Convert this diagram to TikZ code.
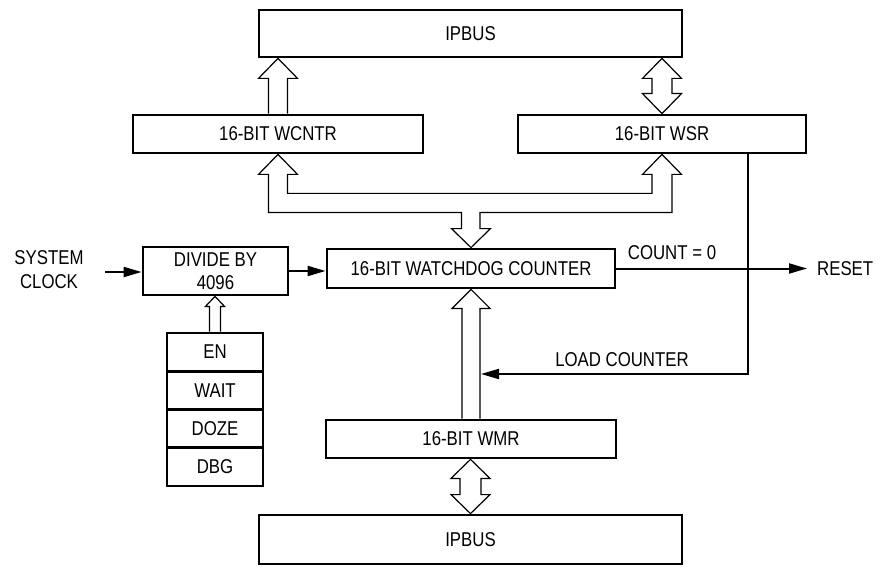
\documentclass[tikz,border=0pt]{standalone}
\usepackage{fontspec}
\setmainfont[FakeStretch=0.84]{Liberation Sans}
\usetikzlibrary{arrows.meta,calc}
\newcommand{\busup}[5]{\draw[bus] let \p1=(#1.north), \p2=(#2.south) in (\x1-#3,\y1) -- (\x1-#3,\y2-#5) -- (\x1-#4,\y2-#5) -- (\x1,\y2) -- (\x1+#4,\y2-#5) -- (\x1+#3,\y2-#5) -- (\x1+#3,\y1);}
\newcommand{\busboth}[5]{\draw[bus] let \p1=(#1.north), \p2=(#2.south) in (\x1,\y1) -- (\x1-#4,\y1+#5) -- (\x1-#3,\y1+#5) -- (\x1-#3,\y2-#5) -- (\x1-#4,\y2-#5) -- (\x1,\y2) -- (\x1+#4,\y2-#5) -- (\x1+#3,\y2-#5) -- (\x1+#3,\y1+#5) -- (\x1+#4,\y1+#5) -- cycle;}
\begin{document}
\begin{tikzpicture}[x=1pt,y=-1pt,
  box/.style={draw,line width=2.8pt,inner sep=0pt,align=center,font=\fontsize{20}{23}\selectfont},
  lbl/.style={inner sep=0pt,align=center,font=\fontsize{20}{24}\selectfont},
  bus/.style={draw,line width=1.2pt,line join=miter},
  sig/.style={line width=2pt,-{Triangle[length=18pt,width=10pt]}}]
\useasboundingbox (0,0) rectangle (884,567);
% boxes
\node[box,minimum width=423pt,minimum height=47pt] (ipbusT) at (470.5,33.5) {IPBUS};
\node[box,minimum width=290pt,minimum height=38pt] (wcntr) at (278,134) {16-BIT WCNTR};
\node[box,minimum width=288pt,minimum height=38pt] (wsr) at (662,134) {16-BIT WSR};
\node[box,minimum width=288pt,minimum height=39pt] (wd) at (471,268.5) {16-BIT WATCHDOG COUNTER};
\node[box,minimum width=145pt,minimum height=48pt] (div) at (215.5,271) {DIVIDE BY\\4096};
\node[box,minimum width=96pt,minimum height=38.25pt] (en) at (215,352.1) {EN};
\node[box,minimum width=96pt,minimum height=38.25pt] (wait) at (215,390.4) {WAIT};
\node[box,minimum width=96pt,minimum height=38.25pt] (doze) at (215,428.6) {DOZE};
\node[box,minimum width=96pt,minimum height=38.25pt] (dbg) at (215,466.9) {DBG};
\node[box,minimum width=290pt,minimum height=38pt] (wmr) at (471,439) {16-BIT WMR};
\node[box,minimum width=423pt,minimum height=49pt] (ipbusB) at (470.5,539.5) {IPBUS};
% labels
\node[lbl] (clk) at (49,270) {SYSTEM\\CLOCK};
\node[lbl] (cnt) at (672,253) {COUNT = 0};
\node[lbl,anchor=west] (reset) at (817,268.5) {RESET};
\node[lbl] (load) at (622,360) {LOAD COUNTER};
\coordinate (clkin) at (105,272);
\coordinate (ld) at (748,374);
\coordinate (ldend) at (481,374);
% hollow bus arrows
\busup{wcntr}{ipbusT}{9.5pt}{19.5pt}{20pt}
\busboth{wsr}{ipbusT}{10pt}{19.5pt}{20pt}
\busup{en}{div}{5.5pt}{9.5pt}{10pt}
\busup{wmr}{wd}{9pt}{19pt}{19pt}
\busboth{ipbusB}{wmr}{10.5pt}{19.5pt}{19pt}
\draw[bus] let \p1=(wcntr.south), \p2=(wsr.south), \p3=(wd.north) in
  (\x3+9pt,\y1-58pt) -- (\x2+10pt,\y1-58pt) -- (\x2+10pt,\y2-20pt) -- (\x2+19.5pt,\y2-20pt) -- (\x2,\y2)
  -- (\x2-19.5pt,\y2-20pt) -- (\x2-10pt,\y2-20pt) -- (\x2-10pt,\y1-39pt) -- (\x1+9.5pt,\y1-39pt)
  -- (\x1+9.5pt,\y1-20pt) -- (\x1+19.5pt,\y1-20pt) -- (\x1,\y1) -- (\x1-19.5pt,\y1-20pt) -- (\x1-9.5pt,\y1-20pt)
  -- (\x1-9.5pt,\y1-58pt) -- (\x3-9.5pt,\y1-58pt) -- (\x3-9.5pt,\y3+19pt) -- (\x3-19.5pt,\y3+19pt) -- (\x3,\y3)
  -- (\x3+19.5pt,\y3+19pt) -- (\x3+9pt,\y3+19pt) -- cycle;
% signal lines
\draw[sig] (clkin) -- (clkin -| div.west);
\draw[sig] (div.east) -- (div.east -| wd.west);
\draw[sig] (wd.east) -- ([xshift=-10pt]reset.west);
\draw[sig] (wsr.south -| ld) -- (ld) -- (ldend);
\end{tikzpicture}
\end{document}
